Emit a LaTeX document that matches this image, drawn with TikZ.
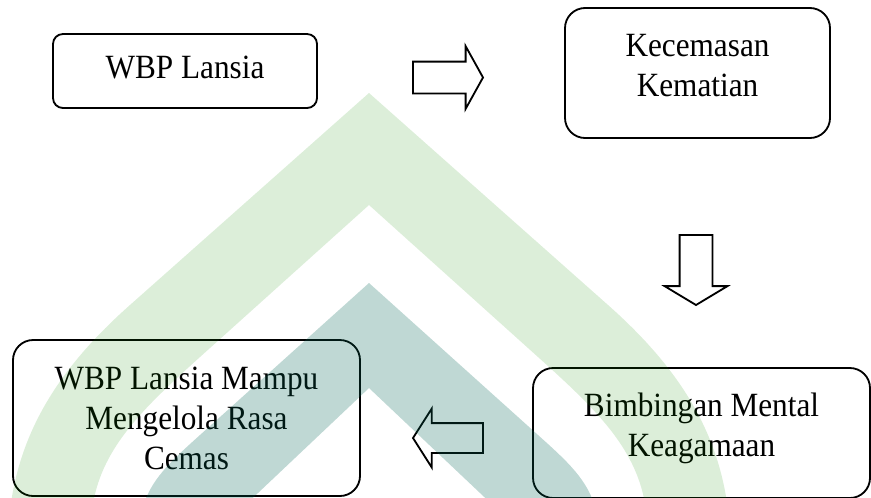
\documentclass[tikz,border=0pt]{standalone}
\usepackage{fontspec}
\setmainfont[FakeStretch=0.92]{Liberation Serif}
\usetikzlibrary{shapes.arrows}

\def\upx{0.383pt}
\definecolor{wmgreen}{RGB}{20,140,0}
\definecolor{wmteal}{RGB}{0,100,84}

\tikzset{
  box/.style={draw, line width=0.7pt, rounded corners=7.7pt, align=center,
    inner sep=0pt, font=\fontsize{13}{15.3}\selectfont},
  blockarrow/.style={draw, line width=0.7pt, single arrow, outer sep=0pt,
    minimum height=70*\upx}
}

\begin{document}
\begin{tikzpicture}[x=\upx, y=-\upx]
\useasboundingbox (0,0) rectangle (871,497);

% boxes
\node (lansia) [box, rounded corners=3.8pt, minimum width=264*\upx, minimum height=74*\upx]
  at (185,71) {WBP Lansia\rule[-3pt]{0pt}{0pt}};
\node (cemas) [box, minimum width=265*\upx, minimum height=130*\upx]
  at (697.5,73) {Kecemasan\\Kematian\rule[-6pt]{0pt}{0pt}};
\node (bimbingan) [box, minimum width=337*\upx, minimum height=130*\upx]
  at (701.5,433) {Bimbingan Mental\\Keagamaan\rule[-6.5pt]{0pt}{0pt}};
\node (mampu) [box, minimum width=347*\upx, minimum height=156*\upx]
  at (186.5,418) {WBP Lansia Mampu\\Mengelola Rasa\\Cemas};

% block arrows
\node (a1) [blockarrow, anchor=tail, inner xsep=0pt, inner ysep=15*\upx,
  single arrow head extend=15.5*\upx, single arrow tip angle=122] at (413,77.5) {};
\node (a2) [blockarrow, anchor=tail, shape border rotate=270, inner ysep=0pt,
  inner xsep=15.5*\upx, single arrow head extend=15*\upx,
  single arrow tip angle=118] at (696,235) {};
\node (a3) [blockarrow, anchor=tail, shape border rotate=180, inner xsep=0pt,
  inner ysep=14*\upx, single arrow head extend=14.5*\upx,
  single arrow tip angle=115] at (483,438) {};

% watermark
\begin{scope}
\clip (0,0) rectangle (871,497);
\fill[wmgreen, opacity=0.15] (369,93) -- (130,305) .. controls (60,367) and (20,430) .. (10,510)
  -- (92,510) .. controls (100,450) and (140,411) .. (200,357) -- (369,205)
  -- (538,357) .. controls (598,411) and (638,450) .. (646,510)
  -- (728,510) .. controls (718,430) and (678,367) .. (608,305) -- cycle;
\fill[wmteal, opacity=0.25] (369,283) -- (200,435) .. controls (170,462) and (150,480) .. (142,510)
  -- (240,510) -- (369,388) -- (498,510)
  -- (596,510) .. controls (588,480) and (568,462) .. (538,435) -- cycle;
\end{scope}
\end{tikzpicture}
\end{document}
